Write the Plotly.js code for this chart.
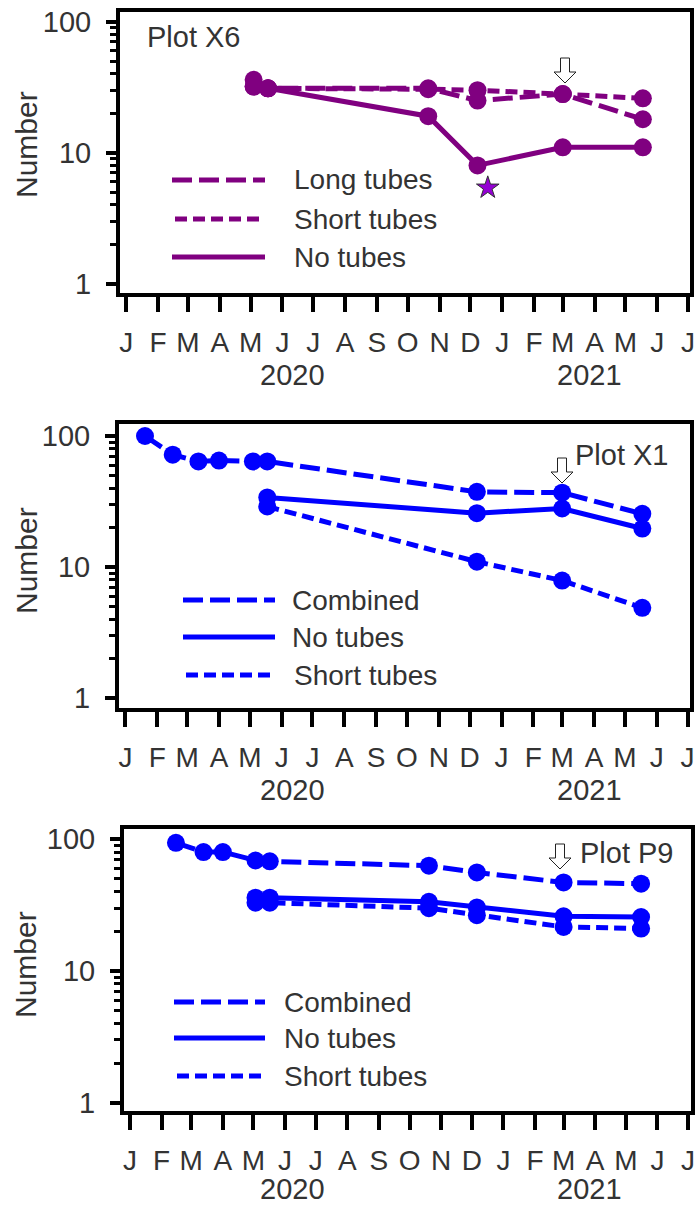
<!DOCTYPE html>
<html><head><meta charset="utf-8">
<script src="https://cdn.plot.ly/plotly-3.0.1.min.js"></script>
<style>html,body{margin:0;padding:0;background:#fff}</style>
</head><body>
<div id="chart" style="width:695px;height:1209px"></div>
<script>
// ---------- tick labels ----------
const monthTickDates = ['2020-01-01','2020-02-01','2020-03-01','2020-04-01','2020-05-01','2020-06-01','2020-07-01','2020-08-01','2020-09-01','2020-10-01','2020-11-01','2020-12-01','2021-01-01','2021-02-01','2021-03-01','2021-04-01','2021-05-01','2021-06-01','2021-07-01'];
const monthTickText = ['J','F','M','A','M','J','J','A','S','O','N','D','J','F','M','A','M','J','J'];
const yTickVals = [1, 10, 100];
const yTickText = ['1', '10', '100'];
const yMinorVals = [2,3,4,5,6,7,8,9,20,30,40,50,60,70,80,90];
const yearLabels = ['2020', '2021'];
const yTitle = 'Number';

// ---------- Panel 1: Plot X6 ----------
const x6Dates = ['2020-05-04','2020-05-18','2020-10-21','2020-12-08','2021-03-01','2021-05-18'];
const x6Long  = [36, 31, 31, 25, 28, 18];
const x6Short = [32, 31, 30.5, 30, 28, 26];
const x6None  = [32, 31, 19, 8, 11, 11];
const x6StarDate = ['2020-12-18'];
const x6StarValue = [5.4];

// ---------- Panel 2: Plot X1 ----------
const x1CombinedDates = ['2020-01-20','2020-02-16','2020-03-12','2020-04-01','2020-05-04','2020-05-18','2020-12-08','2021-03-01','2021-05-18'];
const x1Combined = [100, 72, 64, 65, 64, 64, 37.5, 37, 25.5];
const x1TubeDates = ['2020-05-18','2020-12-08','2021-03-01','2021-05-18'];
const x1None  = [34, 25.8, 28, 19.7];
const x1Short = [29, 11, 7.9, 4.9];

// ---------- Panel 3: Plot P9 ----------
const p9CombinedDates = ['2020-02-15','2020-03-13','2020-04-01','2020-05-03','2020-05-17','2020-10-20','2020-12-06','2021-03-01','2021-05-16'];
const p9Combined = [94, 80, 80, 69, 68, 63, 56, 47, 46];
const p9TubeDates = ['2020-05-03','2020-05-17','2020-10-20','2020-12-06','2021-03-01','2021-05-16'];
const p9None  = [36, 36, 33.5, 30.4, 26, 25.7];
const p9Short = [33, 33, 30, 26.5, 21.6, 21];

// ---------- styling ----------
const W = 695, H = 1209;
const px = v => v / W;
const py = v => 1 - v / H;
const PURPLE = '#800080', BLUE = '#0000ff', TXT = '#333333';
const FONT = 'Liberation Sans, Arial, sans-serif';
const DASH_LONG = '20px,7px', DASH_SHORT = '12px,6px';

function series(x, y, n, color, dash) {
  return {type:'scatter', mode:'lines+markers', x:x, y:y,
    xaxis:'x'+(n>1?n:''), yaxis:'y'+(n>1?n:''),
    line:{color:color, width:5, dash:dash},
    marker:{color:color, size:18, symbol:'circle'},
    showlegend:false, hoverinfo:'x+y'};
}

const traces = [
  series(x6Dates, x6Long, 1, PURPLE, DASH_LONG),
  series(x6Dates, x6Short, 1, PURPLE, DASH_SHORT),
  series(x6Dates, x6None, 1, PURPLE, 'solid'),
  {type:'scatter', mode:'markers', x:x6StarDate, y:x6StarValue, xaxis:'x', yaxis:'y',
   marker:{symbol:'star', size:17, color:'#9400d3', line:{color:'#333', width:1}}, showlegend:false},
  series(x1CombinedDates, x1Combined, 2, BLUE, DASH_LONG),
  series(x1TubeDates, x1None, 2, BLUE, 'solid'),
  series(x1TubeDates, x1Short, 2, BLUE, DASH_SHORT),
  series(p9CombinedDates, p9Combined, 3, BLUE, DASH_LONG),
  series(p9TubeDates, p9None, 3, BLUE, 'solid'),
  series(p9TubeDates, p9Short, 3, BLUE, DASH_SHORT),
];

// panel geometry (inner plot area in pixels)
const panels = [
  {l:120, r:690, t:12,  b:293,  yearDy:82, titleX:26, titleY:145, xr:['2019-12-25 21:00','2021-07-02 22:00'], yr:[-0.071, 2.074]},
  {l:119, r:690, t:424, b:708,  yearDy:82, titleX:27, titleY:560, xr:['2019-12-25 17:00','2021-07-03 10:00'], yr:[-0.074, 2.0915]},
  {l:124, r:691, t:829, b:1111, yearDy:78, titleX:25, titleY:965, xr:['2019-12-26 02:00','2021-07-03 22:00'], yr:[-0.063, 2.078]},
];

const layout = {
  width:W, height:H, margin:{l:0,r:0,t:0,b:0},
  paper_bgcolor:'#fff', plot_bgcolor:'#fff', showlegend:false,
  font:{family:FONT, color:TXT},
  shapes:[], annotations:[]
};

panels.forEach((p, i) => {
  const n = i + 1, s = n > 1 ? n : '';
  layout['xaxis'+s] = {
    type:'date', domain:[px(p.l), px(p.r)], range:p.xr, anchor:'y'+s,
    tickmode:'array', tickvals:monthTickDates, ticktext:monthTickText,
    ticks:'outside', ticklen:15, tickwidth:4, tickcolor:'#000',
    showline:true, linewidth:4, linecolor:'#000', mirror:true,
    showgrid:false, zeroline:false, fixedrange:true, ticklabeloverflow:'allow',
    tickfont:{family:FONT, size:28, color:TXT}, ticklabelstandoff:6
  };
  layout['yaxis'+s] = {
    type:'log', domain:[py(p.b), py(p.t)], range:p.yr, anchor:'x'+s,
    tickmode:'array', tickvals:yTickVals, ticktext:yTickText,
    ticks:'outside', ticklen:10, tickwidth:4, tickcolor:'#000',
    minor:{tickmode:'array', tickvals:yMinorVals, ticks:'outside', ticklen:6, tickwidth:3, tickcolor:'#000', showgrid:false},
    showline:true, linewidth:4, linecolor:'#000', mirror:true,
    showgrid:false, zeroline:false, fixedrange:true,
    tickfont:{family:FONT, size:29, color:TXT}, ticklabelstandoff:9
  };
  // y-axis title
  layout.annotations.push({xref:'paper', yref:'paper', x:px(p.titleX), y:py(p.titleY), text:yTitle,
    textangle:-90, showarrow:false, xanchor:'center', yanchor:'middle', font:{size:30, color:TXT}});
  // year labels
  layout.annotations.push(
    {xref:'paper', yref:'paper', x:px(292), y:py(p.b + p.yearDy), text:yearLabels[0], showarrow:false,
     xanchor:'center', yanchor:'middle', font:{size:29, color:TXT}},
    {xref:'paper', yref:'paper', x:px(589), y:py(p.b + p.yearDy), text:yearLabels[1], showarrow:false,
     xanchor:'center', yanchor:'middle', font:{size:29, color:TXT}}
  );
});

// panel labels
const panelLabels = [
  {text:'Plot X6', x:145, y:37},
  {text:'Plot X1', x:573, y:455},
  {text:'Plot P9', x:578, y:853},
];
panelLabels.forEach(l => layout.annotations.push({xref:'paper', yref:'paper', x:px(l.x), y:py(l.y),
  text:l.text, showarrow:false, xanchor:'left', yanchor:'middle', font:{size:29, color:TXT}}));

// legend keys (drawn as shapes + text)
const legends = [
  [{name:'Long tubes', color:PURPLE, dash:DASH_LONG, x0:172, x1:265, y:180, tx:292},
   {name:'Short tubes', color:PURPLE, dash:DASH_SHORT, x0:175, x1:262, y:219, tx:292},
   {name:'No tubes', color:PURPLE, dash:'solid', x0:172, x1:265, y:257, tx:292}],
  [{name:'Combined', color:BLUE, dash:DASH_LONG, x0:183, x1:275, y:600, tx:290},
   {name:'No tubes', color:BLUE, dash:'solid', x0:183, x1:275, y:637, tx:290},
   {name:'Short tubes', color:BLUE, dash:DASH_SHORT, x0:186, x1:272, y:675, tx:292}],
  [{name:'Combined', color:BLUE, dash:DASH_LONG, x0:174, x1:265, y:1002, tx:282},
   {name:'No tubes', color:BLUE, dash:'solid', x0:174, x1:265, y:1038, tx:282},
   {name:'Short tubes', color:BLUE, dash:DASH_SHORT, x0:177, x1:262, y:1076, tx:282}],
];
legends.forEach(rows => rows.forEach(r => {
  layout.shapes.push({type:'line', xref:'paper', yref:'paper', x0:px(r.x0), x1:px(r.x1), y0:py(r.y), y1:py(r.y),
    line:{color:r.color, width:5, dash:r.dash}});
  layout.annotations.push({xref:'paper', yref:'paper', x:px(r.tx), y:py(r.y), text:r.name, showarrow:false,
    xanchor:'left', yanchor:'middle', font:{size:28, color:TXT}});
}));

// hollow down arrows pointing at March 2021 samples
const arrowTips = [{x:565, y:83}, {x:562, y:483}, {x:560, y:869}];
arrowTips.forEach(a => layout.shapes.push({
  type:'path', xref:'paper', yref:'paper', xsizemode:'pixel', ysizemode:'pixel',
  xanchor:px(a.x), yanchor:py(a.y),
  path:'M 0 0 L -11 11 L -4.5 11 L -4.5 25 L 4.5 25 L 4.5 11 L 11 11 Z',
  fillcolor:'#fff', line:{color:'#222', width:1}, layer:'above'
}));

Plotly.newPlot('chart', traces, layout, {staticPlot:true});
</script>
</body></html>
